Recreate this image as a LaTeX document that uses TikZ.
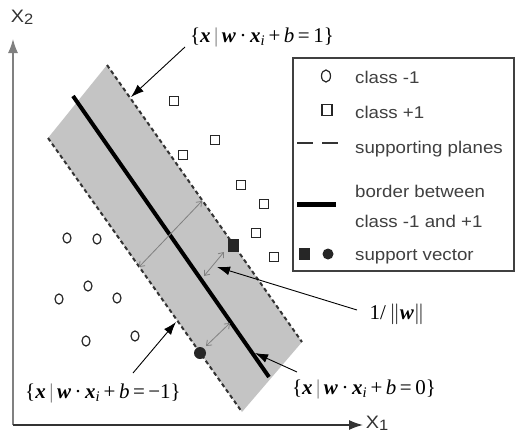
\documentclass[tikz,border=0pt]{standalone}
\usepackage{fontspec}
\usetikzlibrary{arrows.meta,shapes.geometric}
\newfontfamily\lgd[FakeStretch=1.1]{Liberation Sans}
\newfontfamily\tms{Liberation Serif}
\definecolor{bandgray}{gray}{0.77}
\definecolor{txtgray}{gray}{0.25}
\newcommand{\bi}[1]{\textbf{\textit{#1}}}
\newcommand{\hyp}[1]{{\tms\{\bi{x}\,\textcolor{gray}{|}\,\bi{w}\,·\,\bi{x}\textsubscript{\textit{i}}\,+\,\textit{b}\,=\,#1\}}}
\begin{document}
\begin{tikzpicture}[x=1pt,y=-1pt,
  dashedge/.style={draw=black!80,line width=2pt,dash pattern=on 4pt off 3pt},
  osq/.style={draw=black!85,line width=1.1pt,minimum size=9pt,inner sep=0pt},
  ocirc/.style={ellipse,draw=black!85,line width=1.2pt,minimum width=8pt,minimum height=10pt,inner sep=0pt},
  pointer/.style={draw=black,line width=0.9pt,-{Latex[length=13pt,width=9pt]}},
  gaparrow/.style={draw=black!50,line width=0.8pt,{Straight Barb[length=4.5pt,width=7pt]}-{Straight Barb[length=4.5pt,width=7pt]}},
  axisline/.style={line width=1.4pt,-{Latex[length=14pt,width=10pt]}},
  legtext/.style={anchor=base west,inner sep=0pt,text=txtgray,font=\lgd\fontsize{17}{20}\selectfont},
  mathlbl/.style={inner sep=0pt,font=\fontsize{21}{24}\selectfont}]
\useasboundingbox (0,0) rectangle (517,434);

% band
\coordinate (rt) at (107,65);
\coordinate (rb) at (302,342);
\coordinate (lt) at (48,138);
\coordinate (lb) at (242,412);
\fill[bandgray] (rt) -- (rb) -- (lb) -- (lt) -- cycle;
\draw[dashedge] (rt) -- (rb);
\draw[dashedge] (lt) -- (lb);
\coordinate (ct) at (73,96);
\coordinate (cb) at (269,377);
\draw[line width=4pt] (ct) -- (cb);

% axes
\coordinate (o) at (13,425);
\coordinate (ytip) at (13,39);
\coordinate (xtip) at (363,425);
\draw[axisline,draw=black!50] (o) -- (ytip);
\draw[axisline,draw=black!80] (o) -- (xtip);
\node[inner sep=0pt,text=black!80,font=\lgd\fontsize{18}{20}\selectfont] (x2) at (22,17) {X\raisebox{-2pt}{\fontsize{15}{16}\selectfont 2}};
\node[inner sep=0pt,text=black!80,font=\lgd\fontsize{18}{20}\selectfont] (x1) at (377,423) {X\raisebox{-2pt}{\fontsize{15}{16}\selectfont 1}};

% class +1 points
\node[osq] (s1) at (174,101) {};
\node[osq] (s2) at (215,140) {};
\node[osq] (s3) at (183,155) {};
\node[osq] (s4) at (241,185) {};
\node[osq] (s5) at (264,204) {};
\node[osq] (s6) at (256,233) {};
\node[osq] (s7) at (274,257) {};
% class -1 points
\node[ocirc] (c1) at (67,238) {};
\node[ocirc] (c2) at (97,239) {};
\node[ocirc] (c3) at (88,286) {};
\node[ocirc] (c4) at (59,299) {};
\node[ocirc] (c5) at (117,298) {};
\node[ocirc] (c6) at (86,341) {};
\node[ocirc] (c7) at (135,336) {};
% support vectors
\node[fill=black!85,minimum width=11pt,minimum height=13pt,inner sep=0pt] (svs) at (233,245) {};
\node[circle,fill=black!85,minimum size=12pt,inner sep=0pt] (svc) at (200,353) {};

% margin arrows
\coordinate (g1a) at (139,267);
\coordinate (g1b) at (202,201);
\draw[gaparrow] (g1a) -- (g1b);
\coordinate (g2a) at (204,276);
\coordinate (g2b) at (224,252);
\draw[gaparrow] (g2a) -- (g2b);
\coordinate (g3a) at (206,346);
\coordinate (g3b) at (230,323);
\draw[gaparrow] (g3a) -- (g3b);

% labels
\node[mathlbl] (hp) at (262,37) {\hyp{1}};
\node[mathlbl] (hm) at (103,393) {\hyp{−1}};
\node[mathlbl] (h0) at (364,389) {\hyp{0}};
\node[mathlbl] (nw) at (397,314) {\tms 1/\,$\big\|$\bi{w}$\big\|$};

\coordinate (p1s) at (185,47);
\coordinate (p1e) at (131,97);
\draw[pointer] (p1s) -- (p1e);
\coordinate (p2s) at (133,373);
\coordinate (p2e) at (176,322);
\draw[pointer] (p2s) -- (p2e);
\coordinate (p3s) at (297,372);
\coordinate (p3e) at (255,353);
\draw[pointer] (p3s) -- (p3e);
\coordinate (p4s) at (357,310);
\coordinate (p4e) at (217,267);
\draw[pointer] (p4s) -- (p4e);

% legend
\node[draw=black!75,line width=1.4pt,fill=white,minimum width=221pt,minimum height=213pt,inner sep=0pt] (leg) at (403.5,164.5) {};
\node[ocirc,minimum width=9pt,minimum height=12pt] (lc) at (326,76) {};
\node[legtext] (l1) at (355,83) {class -1};
\node[osq,minimum width=10pt,minimum height=11pt] (ls) at (327,110) {};
\node[legtext] (l2) at (355,118) {class +1};
\coordinate (d1a) at (297,143);
\coordinate (d1b) at (313,143);
\coordinate (d2a) at (322,143);
\coordinate (d2b) at (338,143);
\draw[line width=1.4pt,black!80] (d1a) -- (d1b);
\draw[line width=1.4pt,black!80] (d2a) -- (d2b);
\node[legtext] (l3) at (355,153) {supporting planes};
\coordinate (tka) at (297,204);
\coordinate (tkb) at (336,204);
\draw[line width=5pt] (tka) -- (tkb);
\node[legtext] (l4) at (355,197) {border between};
\node[legtext] (l5) at (355,227) {class -1 and +1};
\node[fill=black!85,minimum width=11pt,minimum height=12pt,inner sep=0pt] (lsq) at (304.5,254) {};
\node[circle,fill=black!85,minimum size=11pt,inner sep=0pt] (lci) at (328,254) {};
\node[legtext] (l6) at (355,260) {support vector};
\end{tikzpicture}
\end{document}
